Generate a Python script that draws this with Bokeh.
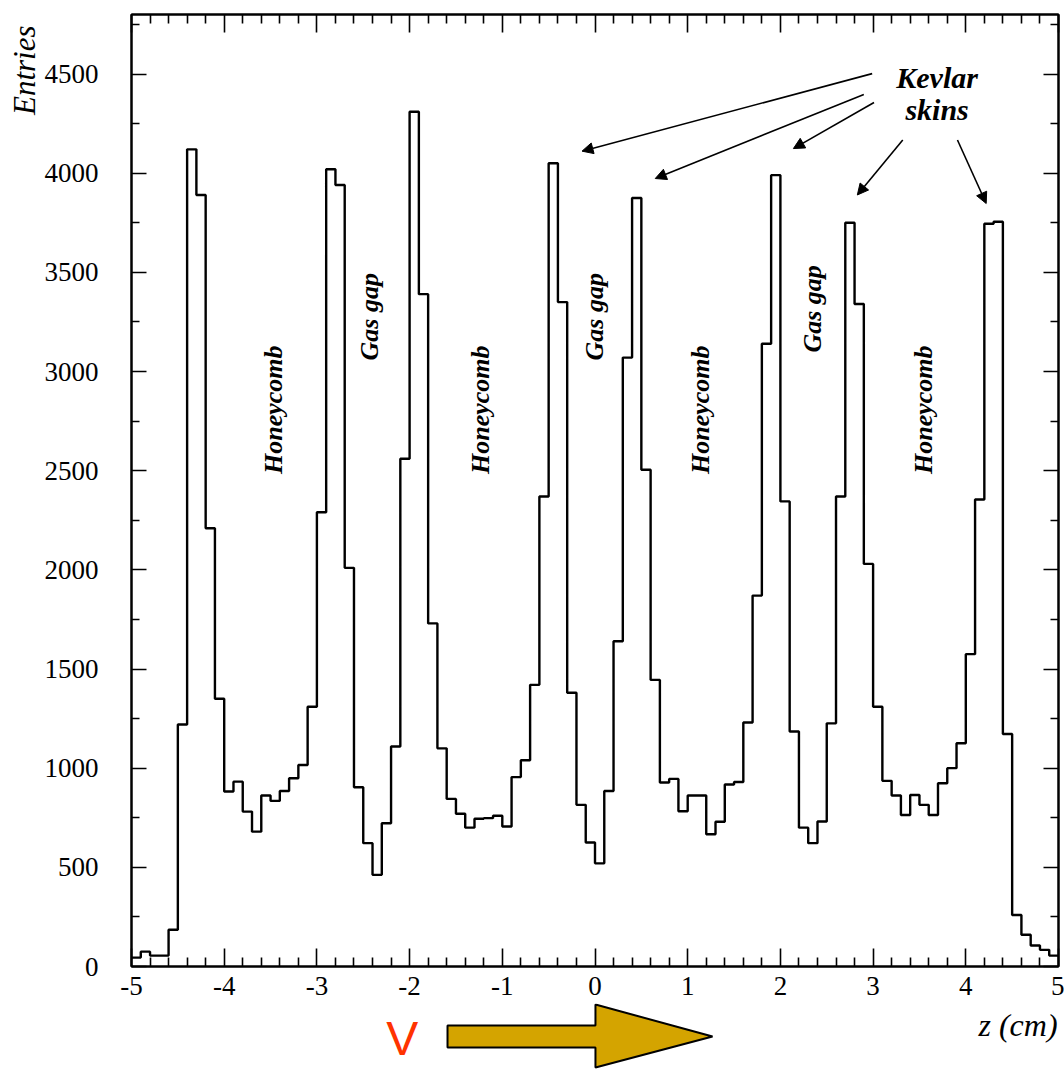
import numpy as np
from bokeh.plotting import figure
from bokeh.layouts import column
from bokeh.models import (FixedTicker, LinearAxis, Label, Arrow, NormalHead,
                          Range1d, Title)
from bokeh.embed import file_html
from bokeh.resources import INLINE

# Histogram definition: 100 bins of 0.1 cm between z = -5 and z = 5
z_min, z_max, n_bins = -5.0, 5.0, 100

# Entries per bin, left to right
entries = [
    45, 75, 55, 55, 185, 1220, 4120, 3890, 2210, 1350,          # -5.0 .. -4.1
    882, 932, 781, 680, 862, 835, 885, 949, 1016, 1310,          # -4.0 .. -3.1
    2290, 4020, 3940, 2010, 904, 622, 462, 722, 1109, 2560,      # -3.0 .. -2.1
    4310, 3390, 1730, 1100, 845, 770, 700, 745, 748, 760,        # -2.0 .. -1.1
    706, 955, 1040, 1420, 2370, 4050, 3350, 1380, 815, 625,      # -1.0 .. -0.1
    520, 885, 1640, 3070, 3875, 2505, 1445, 928, 946, 783,       #  0.0 ..  0.9
    862, 862, 667, 730, 918, 930, 1230, 1870, 3140, 3990,        #  1.0 ..  1.9
    2345, 1185, 700, 622, 731, 1226, 2370, 3750, 3340, 2030,     #  2.0 ..  2.9
    1310, 936, 862, 764, 865, 815, 764, 924, 1000, 1126,         #  3.0 ..  3.9
    1575, 2355, 3745, 3755, 1172, 260, 160, 106, 84, 55,         #  4.0 ..  4.9
]

x_ticks = [-5, -4, -3, -2, -1, 0, 1, 2, 3, 4, 5]
x_tick_labels = ["-5", "-4", "-3", "-2", "-1", "0", "1", "2", "3", "4", "5"]
y_ticks = [0, 500, 1000, 1500, 2000, 2500, 3000, 3500, 4000, 4500]

region_names = ["Honeycomb", "Gas gap", "Honeycomb", "Gas gap",
                "Honeycomb", "Gas gap", "Honeycomb"]

edges = np.linspace(z_min, z_max, n_bins + 1)
step_y = list(entries) + [entries[-1]]

SERIF = "Liberation Serif"
BORDER_L, BORDER_R = 131, 6

p = figure(width=1064, height=1003,
           x_range=Range1d(z_min, z_max), y_range=Range1d(0, 4800),
           output_backend="svg", toolbar_location=None,
           min_border_left=BORDER_L, min_border_right=BORDER_R,
           min_border_top=14, min_border_bottom=37)
p.background_fill_color = "white"
p.border_fill_color = "white"
p.grid.visible = False
p.outline_line_color = "black"
p.outline_line_width = 2

# histogram outline
p.step(edges, step_y, mode="after", line_color="black", line_width=2.4)

x_minor = [round(t + d, 1) for t in range(-5, 5) for d in (0.2, 0.4, 0.6, 0.8)]
y_minor = [t + 250 for t in y_ticks]


def style_axis(ax, ticks, minor, major_len, minor_len, labels=True):
    ax.ticker = FixedTicker(ticks=ticks, minor_ticks=minor)
    ax.axis_line_color = "black"
    ax.axis_line_width = 2
    ax.major_tick_in = major_len
    ax.major_tick_out = 0
    ax.minor_tick_in = minor_len
    ax.minor_tick_out = 0
    ax.major_tick_line_width = 1.6
    ax.minor_tick_line_width = 1.6
    ax.major_tick_line_color = "black"
    ax.minor_tick_line_color = "black"
    if labels:
        ax.major_label_text_font = SERIF
        ax.major_label_text_font_size = "27px"
        ax.major_label_text_color = "black"
    else:
        ax.major_label_text_font_size = "1px"
        ax.major_label_text_color = None
        ax.major_label_standoff = 0


xa = p.xaxis[0]
style_axis(xa, x_ticks, x_minor, 18, 9)
xa.major_label_overrides = {t: s for t, s in zip(x_ticks, x_tick_labels)}
xa.major_label_standoff = 10

ya = p.yaxis[0]
style_axis(ya, y_ticks, y_minor, 15, 8)
ya.major_label_standoff = 33

right = LinearAxis()
style_axis(right, y_ticks, y_minor, 15, 8, labels=False)
p.add_layout(right, "right")

top = LinearAxis()
style_axis(top, x_ticks, x_minor, 18, 9, labels=False)
p.add_layout(top, "above")

# vertical axis title at the top of the left margin
p.add_layout(Title(text="Entries", align="right", offset=11, standoff=0,
                   text_font=SERIF, text_font_style="italic",
                   text_font_size="31px", text_color="black"), "left")

# region names written vertically inside the plot
region_pos = [(-3.47, 2807), (-2.43, 3276), (-1.24, 2807), (-0.01, 3276),
              (1.14, 2807), (2.35, 3316), (3.54, 2807)]
for name, (zx, ey) in zip(region_names, region_pos):
    p.add_layout(Label(x=zx, y=ey, text=name, angle=np.pi / 2,
                       text_align="center", text_baseline="middle",
                       text_font=SERIF, text_font_style="bold italic",
                       text_font_size="26px", text_color="black"))

# Kevlar skins annotation with pointers to the skin peaks
p.add_layout(Label(x=3.69, y=4482, text="Kevlar", text_align="center",
                   text_baseline="middle", text_font=SERIF,
                   text_font_style="bold italic", text_font_size="30px",
                   text_color="black"))
p.add_layout(Label(x=3.69, y=4320, text="skins", text_align="center",
                   text_baseline="middle", text_font=SERIF,
                   text_font_style="bold italic", text_font_size="30px",
                   text_color="black"))
pointers = [((2.99, 4502), (-0.14, 4111)),
            ((2.90, 4397), (0.65, 3973)),
            ((3.01, 4356), (2.14, 4124)),
            ((3.32, 4167), (2.83, 3890)),
            ((3.91, 4167), (4.22, 3847))]
for (x0, y0), (x1, y1) in pointers:
    p.add_layout(Arrow(end=NormalHead(size=11, fill_color="black",
                                      line_color="black", line_width=1),
                       x_start=x0, y_start=y0, x_end=x1, y_end=y1,
                       line_color="black", line_width=1.6))

# strip under the axis: drift direction marker and the z axis title
q = figure(width=1064, height=66, x_range=p.x_range, y_range=Range1d(0, 66),
           output_backend="svg", toolbar_location=None,
           x_axis_type=None, y_axis_type=None,
           min_border_left=BORDER_L, min_border_right=BORDER_R,
           min_border_top=0, min_border_bottom=0)
q.grid.visible = False
q.outline_line_color = None
q.background_fill_color = "white"
q.border_fill_color = "white"

q.patch(x=[-1.591, 0.005, 0.005, 1.268, 0.005, 0.005, -1.591],
        y=[44, 44, 65, 33, 2, 22, 22],
        fill_color="#D4A400", line_color="black", line_width=2)
q.add_layout(Label(x=-2.08, y=31, text="V", text_align="center",
                   text_baseline="middle", text_font="Liberation Sans",
                   text_font_size="48px", text_color="#FF3300"))
q.add_layout(Label(x=4.99, y=45, text="z (cm)", text_align="right",
                   text_baseline="middle", text_font=SERIF,
                   text_font_style="italic", text_font_size="32px",
                   text_color="black"))

layout = column(p, q, spacing=0)
open("out.html", "w").write(file_html(layout, INLINE))
